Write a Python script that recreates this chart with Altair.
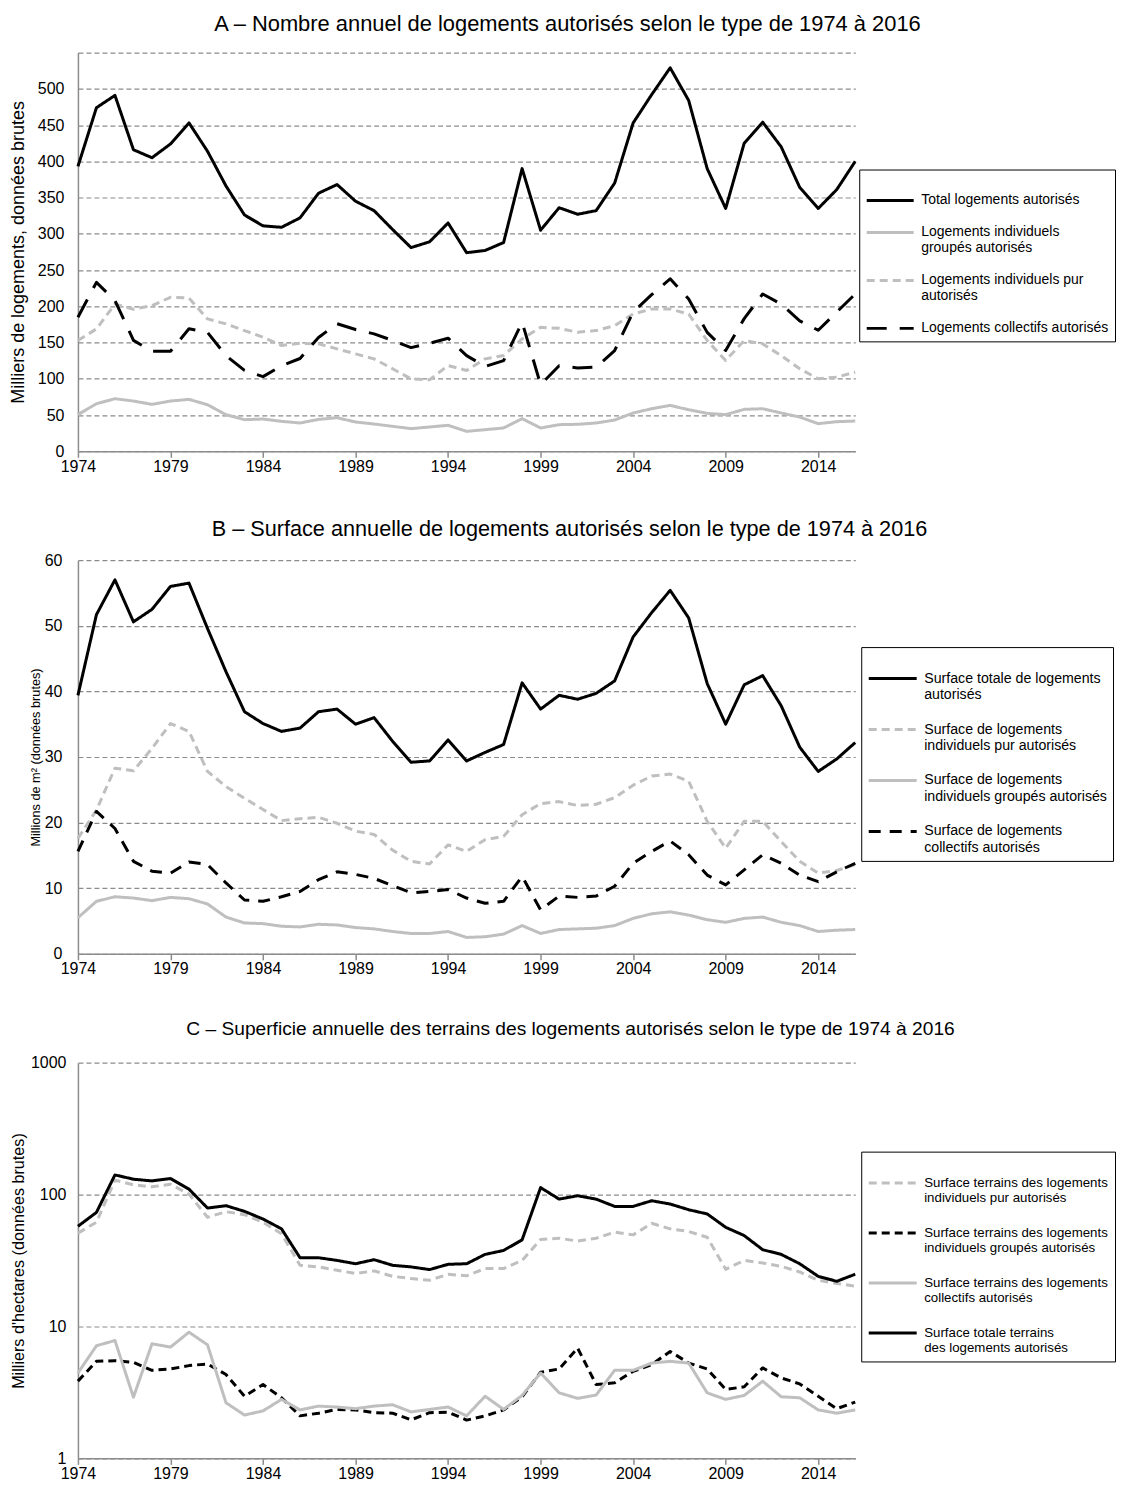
import altair as alt
import pandas as pd

years = list(range(1974, 2017))
x_ticks = [1974, 1979, 1984, 1989, 1994, 1999, 2004, 2009, 2014]

# ---------- Panel A : milliers de logements ----------
a_labels = ["Total logements autorisés",
            "Logements individuels|groupés autorisés",
            "Logements individuels pur|autorisés",
            "Logements collectifs autorisés"]
a_total = [393, 474, 491, 416, 405, 424, 453, 414, 366, 326,
           311, 309, 322, 356, 368, 345, 332, 306, 281, 289,
           315, 274, 277, 288, 390, 305, 336, 327, 332, 370,
           453, 492, 529, 484, 390, 335, 425, 454, 420, 364,
           335, 361, 400]
a_groupes = [50.5, 65.6, 72.5, 69.3, 64.7, 69.3, 71.6, 64.2, 50.5, 43.6,
             44.5, 41.3, 39, 44, 46.3, 40.4, 37.6, 34.4, 31.2, 33.5,
             35.8, 27.5, 29.8, 32.1, 45, 32.1, 36.7, 37.2, 39, 43.1,
             52.8, 58.7, 63.3, 57.3, 52.3, 50.5, 57.8, 58.7, 52.8, 47.2,
             38.1, 40.8, 41.7]
a_pur = [152.8, 168.8, 203, 196, 201, 212.4, 211.5, 182.6, 175.7, 166.5,
         157.3, 145.9, 149, 148.2, 141.3, 134.4, 127.5, 113.8, 100, 98.6,
         118.3, 111.5, 127.5, 132, 155, 171, 169.7, 164.2, 166.5, 173.4,
         189.4, 196.3, 196.3, 189.4, 152.8, 125.2, 152.8, 148.2, 132, 113.8,
         100, 102.3, 109.2]
a_coll = [185, 233, 208, 153, 138, 138, 169, 164, 132, 111.5,
          103, 118, 128, 157, 176, 168, 162, 153, 143, 149,
          156, 132, 117, 125, 178, 92, 118, 115, 116, 139,
          192, 216, 238, 210, 164, 139, 183, 217, 203, 180,
          167, 192, 217]

# ---------- Panel B : millions de m² ----------
b_labels = ["Surface totale de logements|autorisés",
            "Surface de logements|individuels pur autorisés",
            "Surface de logements|individuels groupés autorisés",
            "Surface de logements|collectifs autorisés"]
b_total = [39.4, 51.7, 57, 50.6, 52.5, 56, 56.5, 49.6, 43, 36.9,
           35.1, 33.9, 34.4, 36.9, 37.3, 35, 36, 32.4, 29.2, 29.4,
           32.6, 29.4, 30.7, 31.9, 41.3, 37.3, 39.4, 38.8, 39.7, 41.6,
           48.3, 52, 55.4, 51.2, 41.2, 35, 41, 42.4, 37.8, 31.5,
           27.8, 29.7, 32.2]
b_pur = [17.6, 21.9, 28.3, 27.9, 31.3, 35.1, 33.9, 27.8, 25.5, 23.7,
         22, 20.3, 20.6, 20.8, 19.9, 18.7, 18.2, 15.8, 14.1, 13.7,
         16.6, 15.6, 17.4, 17.9, 21.2, 22.9, 23.2, 22.6, 22.8, 23.8,
         25.7, 27.1, 27.4, 26.3, 20.2, 16.1, 20.2, 20.2, 17.1, 14.1,
         12.3, 12.7, 13.6]
b_groupes = [5.5, 8, 8.7, 8.5, 8.1, 8.6, 8.4, 7.6, 5.6, 4.7,
             4.6, 4.2, 4.1, 4.5, 4.4, 4, 3.8, 3.4, 3.1, 3.1,
             3.4, 2.5, 2.6, 3, 4.3, 3.1, 3.7, 3.8, 3.9, 4.3,
             5.4, 6.1, 6.4, 5.9, 5.2, 4.8, 5.4, 5.6, 4.8, 4.3,
             3.4, 3.6, 3.7]
b_coll = [15.6, 21.7, 19.1, 14.1, 12.6, 12.3, 14, 13.6, 10.8, 8.2,
          8, 8.7, 9.5, 11.3, 12.5, 12.1, 11.5, 10.4, 9.3, 9.5,
          9.8, 8.5, 7.7, 8, 11.8, 6.7, 8.8, 8.6, 8.8, 10.3,
          13.8, 15.6, 17.2, 15.1, 12, 10.5, 12.8, 15.1, 13.8, 12,
          11, 12.5, 13.8]

# ---------- Panel C : milliers d'hectares ----------
c_labels = ["Surface terrains des logements|individuels pur autorisés",
            "Surface terrains des logements|individuels groupés autorisés",
            "Surface terrains des logements|collectifs autorisés",
            "Surface totale terrains|des logements autorisés"]
c_pur = [51, 61.7, 128.5, 118.5, 114.5, 119.9, 100.8, 67.3, 74.2, 70.4,
         61.7, 50.4, 29.1, 28.3, 26.7, 25.2, 26.4, 24, 23.1, 22.4,
         24.9, 24.2, 27.5, 27.5, 31.7, 45.7, 46.7, 44.4, 46.7, 51.9,
         49.5, 60.6, 55, 52.5, 47.5, 27.1, 31.7, 30.3, 28.6, 25.9,
         22.4, 21.2, 20.2]
c_groupes = [3.85, 5.44, 5.5, 5.35, 4.65, 4.76, 5.05, 5.2, 4.32, 2.96,
             3.63, 2.88, 2.1, 2.2, 2.35, 2.33, 2.22, 2.2, 1.96, 2.22,
             2.24, 1.95, 2.1, 2.33, 2.93, 4.5, 4.76, 6.86, 3.63, 3.74,
             4.57, 5.14, 6.47, 5.28, 4.76, 3.33, 3.49, 4.85, 4.07, 3.67,
             2.96, 2.38, 2.67]
c_coll = [4.44, 7.14, 7.83, 2.91, 7.39, 6.98, 9.05, 7.26, 2.64, 2.13,
          2.29, 2.8, 2.33, 2.49, 2.45, 2.38, 2.49, 2.55, 2.25, 2.35,
          2.45, 2.1, 2.96, 2.35, 3.0, 4.44, 3.14, 2.85, 3.02, 4.65,
          4.65, 5.28, 5.44, 5.28, 3.14, 2.8, 3.0, 3.85, 2.93, 2.88,
          2.33, 2.2, 2.33]
c_total = [57.5, 73.3, 141, 130.8, 127, 132.3, 110, 79.1, 82.4, 74.6,
           65.3, 55, 33.2, 33.2, 31.7, 29.9, 32.1, 29.1, 28.3, 27,
           29.6, 29.9, 35.2, 37.7, 45.4, 113, 92.4, 98, 92.4, 81.4,
           81.4, 89.8, 84.8, 76.8, 71.3, 56.5, 48.9, 38.2, 35.2, 29.9,
           24, 22, 24.9]

BLACK = "#000000"
GREY = "#bfbfbf"
FONT = "Liberation Sans"


def long_df(labels, series):
    rows = []
    for lab, vals in zip(labels, series):
        for yr, v in zip(years, vals):
            rows.append({"annee": yr, "valeur": v, "serie": lab})
    return pd.DataFrame(rows)


def panel(title, title_size, title_dx, title_offset, ytitle, ytitle_size,
          labels, series, colors, dashes,
          yscale, yvalues, label_expr, height, label_pad, title_pad,
          legend_x, legend_y, symbol_size, legend_font, row_pad):
    df = long_df(labels, series)
    leg = alt.Legend(
        title=None, orient="none", legendX=legend_x, legendY=legend_y,
        symbolType="stroke", symbolSize=symbol_size, symbolStrokeWidth=3,
        labelFont=FONT, labelFontSize=legend_font, labelColor="black",
        labelLimit=400, labelOffset=6, rowPadding=row_pad,
        labelExpr="split(datum.label, '|')",
        strokeColor="black", fillColor="white", padding=6,
    )
    return alt.Chart(df, title=alt.TitleParams(
        title, fontSize=title_size, font=FONT, fontWeight="normal",
        anchor="middle", frame="group", dx=title_dx, color="black",
        offset=title_offset)).mark_line(
        strokeWidth=3, strokeJoin="round").encode(
        x=alt.X("annee:Q",
                scale=alt.Scale(domain=[1974, 2016], nice=False, zero=False),
                axis=alt.Axis(values=x_ticks, format="d", title=None,
                              grid=False, ticks=True, tickSize=6,
                              tickWidth=1.5, tickColor="#8c8c8c",
                              labelFlush=False, labelPadding=1)),
        y=alt.Y("valeur:Q", scale=yscale,
                axis=alt.Axis(values=yvalues, title=ytitle,
                              titleFontSize=ytitle_size, format="d",
                              labelExpr=label_expr,
                              grid=True, ticks=False, labelPadding=label_pad,
                              titlePadding=title_pad)),
        color=alt.Color("serie:N",
                        scale=alt.Scale(domain=labels, range=colors),
                        legend=leg),
        strokeDash=alt.StrokeDash("serie:N",
                                  scale=alt.Scale(domain=labels, range=dashes),
                                  legend=leg),
    ).properties(width=778, height=height)


chart_a = panel(
    "A – Nombre annuel de logements autorisés selon le type de 1974 à 2016",
    21.9, 101, 17,
    "Milliers de logements, données brutes", 18,
    a_labels, [a_total, a_groupes, a_pur, a_coll],
    [BLACK, GREY, GREY, BLACK],
    [[1, 0], [1, 0], [8, 5], [20, 13]],
    alt.Scale(domain=[0, 550], nice=False),
    list(range(0, 551, 50)),
    "datum.value == 550 ? '' : datum.label",
    399, 14, 10, 782, 117, 2209, 14, 0)

chart_b = panel(
    "B – Surface annuelle de logements autorisés selon le type de 1974 à 2016",
    21.7, 103, 11,
    "Millions de m² (données brutes)", 12.75,
    b_labels, [b_total, b_pur, b_groupes, b_coll],
    [BLACK, GREY, GREY, BLACK],
    [[1, 0], [8, 5], [1, 0], [12, 9]],
    alt.Scale(domain=[0, 60], nice=False),
    list(range(0, 61, 10)),
    "datum.label",
    394, 16, 2, 784, 87, 2304, 14.2, 2)

chart_c = panel(
    "C – Superficie annuelle des terrains des logements autorisés selon le type de 1974 à 2016",
    19.2, 104, 16,
    "Milliers d'hectares (données brutes)", 16.2,
    c_labels, [c_pur, c_groupes, c_coll, c_total],
    [GREY, BLACK, GREY, BLACK],
    [[8, 5], [8, 5], [1, 0], [1, 0]],
    alt.Scale(type="log", domain=[1, 1000], nice=False),
    [1, 10, 100, 1000],
    "datum.label",
    396, 12, 4, 784, 89, 2304, 13.3, 2)

chart = alt.vconcat(chart_a, chart_b, chart_c, spacing=109, bounds="flush").resolve_scale(
    color="independent", strokeDash="independent"
).resolve_legend(
    color="independent", strokeDash="independent"
).properties(
    padding={"left": 1, "top": 4, "right": 0, "bottom": 0}
).configure_view(stroke=None).configure_axis(
    domainColor="#8c8c8c", domainWidth=1.5,
    gridColor="#8c8c8c", gridDash=[5, 3], gridWidth=1.2,
    labelFont=FONT, labelFontSize=16, labelColor="black",
    titleFont=FONT, titleFontWeight="normal", titleColor="black",
)

chart.save("out.html", embed_options={"renderer": "svg", "actions": False})
